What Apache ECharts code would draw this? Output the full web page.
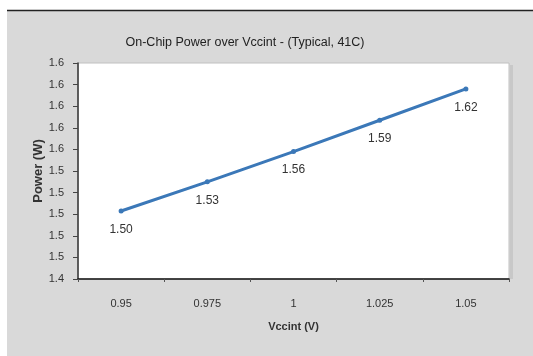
<!DOCTYPE html>
<html>
<head>
<meta charset="utf-8">
<script src="https://cdn.jsdelivr.net/npm/echarts@6/dist/echarts.min.js"></script>
<style>
html,body{margin:0;padding:0;background:#fff;}
#c{width:533px;height:356px;}
</style>
</head>
<body>
<div id="c"></div>
<script>
const categories = ['0.95', '0.975', '1', '1.025', '1.05'];
const powerValues = [1.503, 1.530, 1.558, 1.587, 1.616];
const dataLabels = ['1.50', '1.53', '1.56', '1.59', '1.62'];
const titleText = 'On-Chip Power over Vccint - (Typical, 41C)';
const yName = 'Power (W)';
const xName = 'Vccint (V)';
const yMin = 1.44, yMax = 1.64, yStep = 0.02;

const FONT = "'Liberation Sans', Arial, sans-serif";
const chart = echarts.init(document.getElementById('c'), null, {renderer: 'canvas'});
chart.setOption({
  animation: false,
  backgroundColor: '#ffffff',
  graphic: [
    {type: 'rect', z: -10, shape: {x: 7, y: 10, width: 526, height: 346}, style: {fill: '#d9d9d9'}},
    {type: 'line', z: -9, shape: {x1: 7, y1: 10.5, x2: 533, y2: 10.5}, style: {stroke: '#222', lineWidth: 1.5}},
    {type: 'rect', z: -8, shape: {x: 510, y: 65, width: 3, height: 214}, style: {fill: '#c8c8c8'}}
  ],
  title: {
    text: titleText,
    left: 240, top: 31, textAlign: 'center',
    textStyle: {fontFamily: FONT, fontSize: 12.5, fontWeight: 'normal', color: '#222'}
  },
  grid: {
    left: 78, right: 24, top: 63, bottom: 77,
    show: true, backgroundColor: '#ffffff', borderColor: '#c0c0c0', borderWidth: 1
  },
  xAxis: {
    type: 'category', data: categories, boundaryGap: true,
    name: xName, nameLocation: 'middle', nameGap: 42, nameMoveOverlap: false,
    nameTextStyle: {fontFamily: FONT, fontSize: 11, fontWeight: 'bold', color: '#333'},
    axisLine: {lineStyle: {color: '#111', width: 1.5}},
    axisTick: {show: true, length: 3, lineStyle: {color: '#555'}},
    axisLabel: {fontFamily: FONT, fontSize: 11, color: '#333', margin: 19},
    splitLine: {show: false}
  },
  yAxis: {
    type: 'value', min: yMin, max: yMax, interval: yStep,
    name: yName, nameLocation: 'middle', nameGap: 33, nameRotate: 90, nameMoveOverlap: false,
    nameTextStyle: {fontFamily: FONT, fontSize: 13, fontWeight: 'bold', color: '#333'},
    axisLine: {show: true, lineStyle: {color: '#333', width: 1.5}},
    axisTick: {show: true, length: 5, lineStyle: {color: '#444'}},
    axisLabel: {fontFamily: FONT, fontSize: 11, color: '#333', margin: 14,
      formatter: v => v.toFixed(1)},
    splitLine: {show: false}
  },
  series: [{
    type: 'line',
    data: powerValues,
    symbol: 'circle', symbolSize: 5,
    lineStyle: {color: '#3b78b8', width: 3},
    itemStyle: {color: '#3b78b8'},
    label: {
      show: true, position: 'bottom', distance: 10,
      fontFamily: FONT, fontSize: 12, color: '#333',
      formatter: p => dataLabels[p.dataIndex]
    }
  }]
});
</script>
</body>
</html>
